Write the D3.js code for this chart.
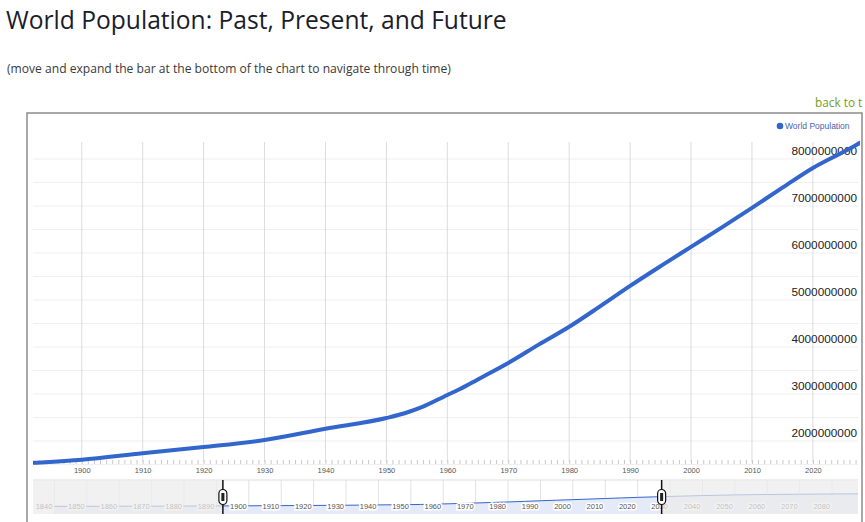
<!DOCTYPE html>
<html>
<head>
<meta charset="utf-8">
<style>
  body { margin: 0; overflow: hidden; background: #fff; }
  svg { display: block; }
</style>
</head>
<body>
<svg id="chart" width="865" height="522"></svg>
<script src="https://d3js.org/d3.v7.min.js"></script>
<script>

// world population in millions
var years = [1840, 1850, 1860, 1870, 1880, 1890, 1900, 1910, 1920, 1930, 1940, 1950, 1953,
             1956, 1960, 1962, 1965, 1970, 1975, 1980, 1985, 1990, 1995, 2000, 2005, 2010,
             2015, 2020, 2025, 2030, 2040, 2050, 2060, 2070, 2080, 2090];
var population = [1200, 1260, 1310, 1360, 1440, 1520, 1600, 1740, 1870, 2020, 2260, 2490, 2590,
                  2730, 2980, 3100, 3310, 3660, 4050, 4430, 4860, 5300, 5720, 6130, 6540, 6960,
                  7390, 7810, 8150, 8500, 9100, 9600, 9900, 10100, 10300, 10400];

var yTicks = [2000000000, 3000000000, 4000000000, 5000000000, 6000000000, 7000000000, 8000000000];
var yGrid = [1.5e9, 2e9, 2.5e9, 3e9, 3.5e9, 4e9, 4.5e9, 5e9, 5.5e9, 6e9, 6.5e9, 7e9, 7.5e9, 8e9];
var xTicks = [1900, 1910, 1920, 1930, 1940, 1950, 1960, 1970, 1980, 1990, 2000, 2010, 2020];
var navTicks = [1840, 1850, 1860, 1870, 1880, 1890, 1900, 1910, 1920, 1930, 1940, 1950, 1960,
                1970, 1980, 1990, 2000, 2010, 2020, 2030, 2040, 2050, 2060, 2070, 2080];

// visible window of the main chart and full range of the navigator
var viewStart = 1892, viewEnd = 2027.4;
var navStart = 1833.4, navEnd = 2088;

var data = years.map(function(y, i) { return {year: y, value: population[i] * 1e6}; });

var svg = d3.select("#chart"),
    left = 33, right = 858,
    blue = "#3366cc";

// page heading
svg.append("text")
    .attr("x", 6).attr("y", 29)
    .attr("font-family", "'Open Sans', sans-serif")
    .attr("font-size", 24.6)
    .attr("fill", "#1b1d2b")
    .text("World Population: Past, Present, and Future");

svg.append("text")
    .attr("x", 7).attr("y", 73)
    .attr("font-family", "'Open Sans', sans-serif")
    .attr("font-size", 12.1)
    .attr("fill", "#3a3a3a")
    .text("(move and expand the bar at the bottom of the chart to navigate through time)");

// the page link is cut by the window edge in the original; only its start shows
svg.append("text")
    .attr("x", 815).attr("y", 107)
    .attr("font-family", "'Open Sans', sans-serif")
    .attr("font-size", 11.8)
    .attr("fill", "#72a01c")
    .text("back to t");

var x = d3.scaleLinear()
    .domain([viewStart, viewEnd])
    .range([left, right]);

var y = d3.scaleLinear()
    .domain([2e9, 8e9])
    .range([441, 159]);

// chart frame (bottom edge runs off the page)
svg.append("path")
    .attr("d", "M27,522V113H862V522")
    .attr("fill", "none")
    .attr("stroke", "#8c8c8c")
    .attr("stroke-width", 1.5);

// grid
svg.append("g")
  .selectAll("line")
  .data(yGrid)
  .join("line")
    .attr("x1", left).attr("x2", right)
    .attr("y1", function(d) { return y(d); })
    .attr("y2", function(d) { return y(d); })
    .attr("stroke", "#efefef");

svg.append("g")
  .selectAll("line")
  .data(xTicks)
  .join("line")
    .attr("x1", function(d) { return x(d); })
    .attr("x2", function(d) { return x(d); })
    .attr("y1", 142).attr("y2", 462)
    .attr("stroke", "#dcdcdc");

// yearly minor ticks
svg.append("g")
    .attr("transform", "translate(0,460)")
    .call(d3.axisBottom(x).tickValues(d3.range(1893, 2028)).tickSize(4).tickFormat(""))
    .call(function(g) { g.select(".domain").remove(); })
    .selectAll("line").attr("stroke", "#c8c8c8");

svg.append("g")
    .attr("transform", "translate(0,468)")
    .call(d3.axisBottom(x).tickValues(xTicks).tickSize(0).tickPadding(0).tickFormat(d3.format("d")))
    .call(function(g) { g.select(".domain").remove(); })
    .selectAll("text")
      .attr("font-family", "Arial, 'Liberation Sans', sans-serif")
      .attr("font-size", 7.5)
      .attr("fill", "#555");

// value labels sit just above their grid line
svg.append("g")
  .selectAll("text")
  .data(yTicks)
  .join("text")
    .attr("x", 857)
    .attr("y", function(d) { return y(d) - 4; })
    .attr("text-anchor", "end")
    .attr("font-family", "Arial, 'Liberation Sans', sans-serif")
    .attr("font-size", 11.8)
    .attr("fill", "#222")
    .text(function(d) { return d; });

// the line
svg.append("clipPath")
    .attr("id", "plotClip")
  .append("rect")
    .attr("x", left).attr("y", 113)
    .attr("width", right - left + 2).attr("height", 360);

var line = d3.line()
    .curve(d3.curveMonotoneX)
    .x(function(d) { return x(d.year); })
    .y(function(d) { return y(d.value); });

svg.append("path")
    .datum(data)
    .attr("clip-path", "url(#plotClip)")
    .attr("fill", "none")
    .attr("stroke", blue)
    .attr("stroke-width", 4)
    .attr("stroke-linejoin", "round")
    .attr("d", line);

// legend
svg.append("circle")
    .attr("cx", 780).attr("cy", 126).attr("r", 3.3)
    .attr("fill", blue);

svg.append("text")
    .attr("x", 785).attr("y", 129)
    .attr("font-family", "Arial, 'Liberation Sans', sans-serif")
    .attr("font-size", 8.5)
    .attr("fill", "#4d62b3")
    .text("World Population");

// navigator
var nx = d3.scaleLinear()
    .domain([navStart, navEnd])
    .range([left, right]);

var ny = d3.scaleLinear()
    .domain([0, 11e9])
    .range([508, 493]);

var nav = svg.append("g");
var navTop = 480, navBottom = 514;

nav.append("rect")
    .attr("x", left).attr("y", navTop)
    .attr("width", right - left).attr("height", navBottom - navTop)
    .attr("fill", "#fff");

nav.append("g")
  .selectAll("line")
  .data(navTicks)
  .join("line")
    .attr("x1", function(d) { return nx(d); })
    .attr("x2", function(d) { return nx(d); })
    .attr("y1", navTop).attr("y2", navBottom)
    .attr("stroke", "#e2e2e2");

nav.append("clipPath")
    .attr("id", "navClip")
  .append("rect")
    .attr("x", left).attr("y", navTop)
    .attr("width", right - left).attr("height", navBottom - navTop);

nav.append("path")
    .datum(data)
    .attr("clip-path", "url(#navClip)")
    .attr("fill", "#e4eaf8")
    .attr("d", d3.area()
      .x(function(d) { return nx(d.year); })
      .y0(navBottom)
      .y1(function(d) { return ny(d.value); }));

nav.append("path")
    .datum(data)
    .attr("clip-path", "url(#navClip)")
    .attr("fill", "none")
    .attr("stroke", blue)
    .attr("stroke-width", 1)
    .attr("d", d3.line()
      .x(function(d) { return nx(d.year); })
      .y(function(d) { return ny(d.value); }));

nav.append("g")
  .selectAll("text")
  .data(navTicks)
  .join("text")
    .attr("x", function(d) { return nx(d) - 2; })
    .attr("y", 509)
    .attr("text-anchor", "end")
    .attr("font-family", "Arial, 'Liberation Sans', sans-serif")
    .attr("font-size", 7.5)
    .attr("fill", "#555")
    .attr("stroke", "#fff")
    .attr("stroke-width", 3)
    .attr("paint-order", "stroke")
    .text(function(d) { return d; });

nav.append("line")
    .attr("x1", left).attr("x2", right)
    .attr("y1", navTop).attr("y2", navTop)
    .attr("stroke", "#dddddd");

// dim the part of the navigator outside the window
nav.append("rect")
    .attr("x", left).attr("y", navTop)
    .attr("width", nx(viewStart) - left).attr("height", navBottom - navTop)
    .attr("fill", "rgb(236,236,236)").attr("fill-opacity", 0.72);

nav.append("rect")
    .attr("x", nx(viewEnd)).attr("y", navTop)
    .attr("width", right - nx(viewEnd)).attr("height", navBottom - navTop)
    .attr("fill", "rgb(236,236,236)").attr("fill-opacity", 0.72);

// window handles
var handles = nav.selectAll(".handle")
  .data([viewStart, viewEnd])
  .join("g")
    .attr("class", "handle")
    .attr("transform", function(d) { return "translate(" + nx(d) + ",0)"; });

handles.append("line")
    .attr("y1", navTop).attr("y2", navBottom)
    .attr("stroke", "#111")
    .attr("stroke-width", 1.5);

handles.append("rect")
    .attr("x", -4).attr("y", 489.5)
    .attr("width", 8).attr("height", 15).attr("rx", 4)
    .attr("fill", "#fff")
    .attr("stroke", "#111")
    .attr("stroke-width", 1.2);

handles.append("rect")
    .attr("x", -1.5).attr("y", 493)
    .attr("width", 3).attr("height", 8)
    .attr("fill", "#222");

</script>
</body>
</html>
